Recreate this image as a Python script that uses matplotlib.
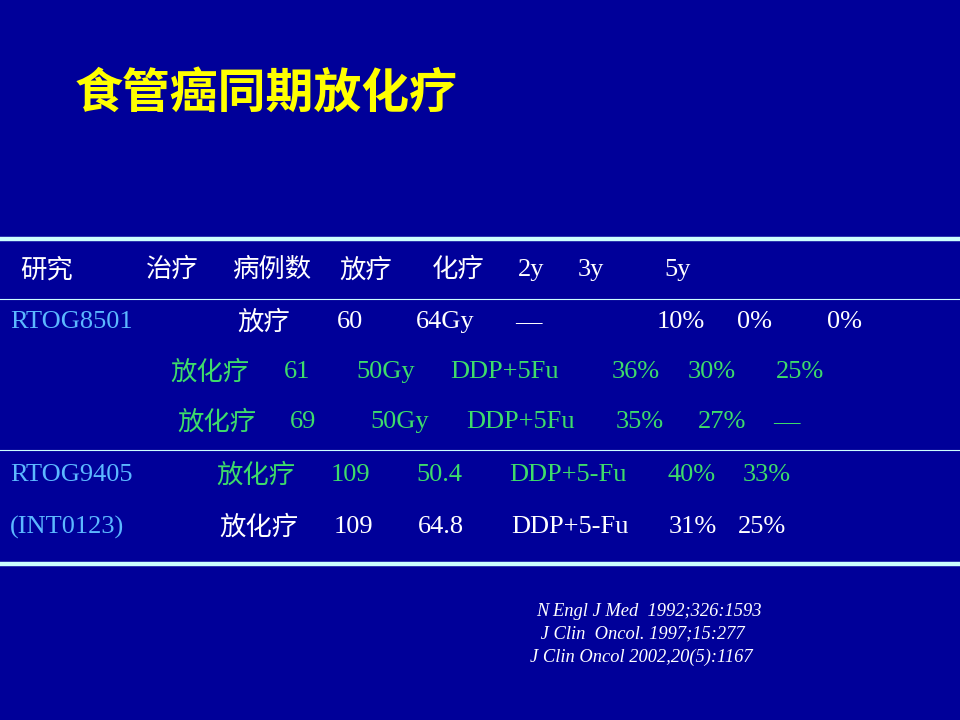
import matplotlib.pyplot as plt

plt.rcParams['font.family'] = ['Liberation Serif', 'Noto Sans CJK SC', 'DejaVu Sans']

# slide content
title = '食管癌同期放化疗'
header = ['研究', '治疗', '病例数', '放疗', '化疗', '2y', '3y', '5y']
rows = [
    ['RTOG8501', '放疗', '60', '64Gy', '—', '10%', '0%', '0%'],
    ['', '放化疗', '61', '50Gy', 'DDP+5Fu', '36%', '30%', '25%'],
    ['', '放化疗', '69', '50Gy', 'DDP+5Fu', '35%', '27%', '—'],
    ['RTOG9405', '放化疗', '109', '50.4', 'DDP+5-Fu', '40%', '33%'],
    ['(INT0123)', '放化疗', '109', '64.8', 'DDP+5-Fu', '31%', '25%'],
]
refs = ['N Engl J Med  1992;326:1593',
        ' J Clin  Oncol. 1997;15:277',
        'J Clin Oncol 2002,20(5):1167']

# layout (pixels)
BG = '#000099'
WHITE = '#FFFFFF'
BLUE = '#5CB8FF'
GREEN = '#3EDC6A'
LINE = '#CCFFFF'

header_x = [20, 146, 232, 339, 432, 518, 578, 664]
header_y = 270
rows_x = [
    [10, 237, 337, 416, 515, 657, 737, 827],
    [10, 170, 284, 356, 450, 612, 688, 776],
    [10, 177, 290, 370, 466, 616, 698, 773],
    [10, 216, 331, 416, 509, 667, 743],
    [10, 219, 334, 418, 511, 669, 738],
]
rows_y = [322, 372, 422, 475, 527]
rows_color = [WHITE, GREEN, GREEN, GREEN, WHITE]

fig = plt.figure(figsize=(9.6, 7.2), dpi=100)
fig.patch.set_facecolor(BG)
ax = fig.add_axes([0, 0, 1, 1])
ax.set_xlim(0, 960)
ax.set_ylim(720, 0)
ax.axis('off')
ax.set_facecolor(BG)

ax.text(75, 93, title, fontsize=34.5, fontweight='bold', color='#FFFF00',
        family=['Noto Sans CJK SC'], va='center', ha='left')

# table rules
ax.plot([0, 960], [239, 239], color=LINE, lw=3.2)
ax.plot([0, 960], [299, 299], color=LINE, lw=0.8)
ax.plot([0, 960], [450, 450], color=LINE, lw=0.8)
ax.plot([0, 960], [564, 564], color=LINE, lw=3.2)

fs = 19
for x, s in zip(header_x, header):
    ax.text(x, header_y, s, fontsize=fs, color=WHITE, va='center', ha='left')

for cells, xs, y, c in zip(rows, rows_x, rows_y, rows_color):
    for i, (x, s) in enumerate(zip(xs, cells)):
        if not s:
            continue
        col = BLUE if i == 0 else c
        ax.text(x, y, s, fontsize=fs, color=col, va='center', ha='left')

ref_x = [536, 536, 530]
ref_y = [612, 634, 657]
for x, y, s in zip(ref_x, ref_y, refs):
    ax.text(x, y, s, fontsize=13.3, style='italic', color=WHITE,
            va='center', ha='left')

fig.savefig('out.png', dpi=100, facecolor=BG)
